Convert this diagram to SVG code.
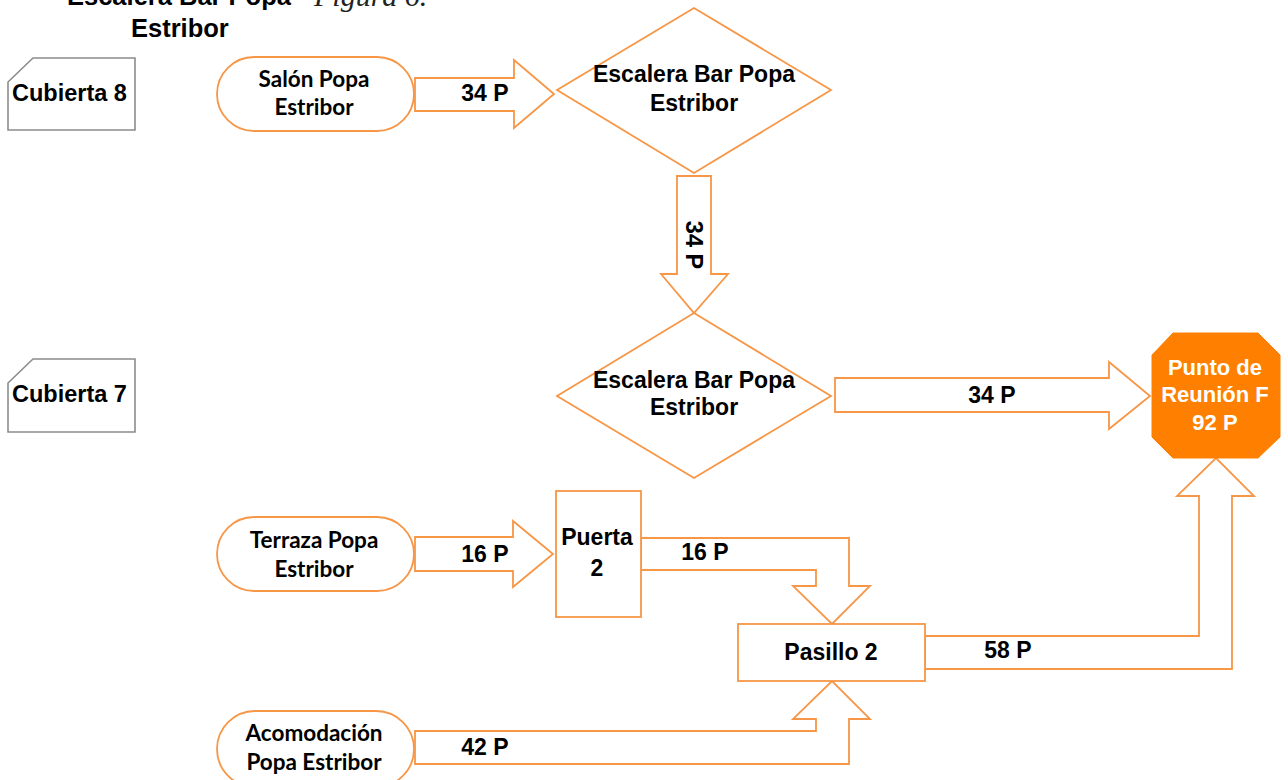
<svg xmlns="http://www.w3.org/2000/svg" width="1288" height="780" viewBox="0 0 1288 780">
  <style>
    .ln { fill: #ffffff; stroke: #f79646; stroke-width: 1.8; stroke-linejoin: miter; }
    .deck { fill: #ffffff; stroke: #8c8c8c; stroke-width: 1.6; }
    .a { font-family: "Liberation Sans", Arial, sans-serif; font-weight: bold; fill: #000000; }
    .c { font-family: Lato, "Open Sans", sans-serif; font-weight: bold; fill: #000000; font-size: 22.5px; }
    .mid { text-anchor: middle; }
    .w { fill: #ffffff; }
  </style>

  <!-- heading -->
  <g id="heading">
    <text class="a" x="67" y="5" font-size="25.5">Escalera Bar Popa</text>
    <text class="a" x="131" y="37" font-size="25.5">Estribor</text>
    <text x="314" y="6" font-family="'Liberation Serif', 'Times New Roman', serif" font-style="italic" font-size="30" fill="#222222">Figura 6.</text>
  </g>

  <!-- deck labels -->
  <g id="cubierta8">
    <path class="deck" d="M33,58 H135 V130 H8 V82 Z"/>
    <text class="a" x="12" y="101" font-size="23.5">Cubierta 8</text>
  </g>
  <g id="cubierta7">
    <path class="deck" d="M33,359 H135 V432 H8 V383 Z"/>
    <text class="a" x="12" y="402" font-size="23.5">Cubierta 7</text>
  </g>

  <!-- connectors (block arrows) -->
  <g id="connectors">
    <path class="ln" d="M415,78 H514 V60 L554,94 L514,128 V111 H415 Z"/>
    <text class="a" x="485" y="101" font-size="23" text-anchor="middle">34 P</text>

    <path class="ln" d="M677,176 H711 V274 H728 L694,313 L661,274 H677 Z"/>
    <text class="a" transform="translate(686,245) rotate(90)" font-size="23.5" text-anchor="middle">34 P</text>

    <path class="ln" d="M835,378 H1109 V362 L1150,396 L1109,429 V412 H835 Z"/>
    <text class="a" x="992" y="403" font-size="23" text-anchor="middle">34 P</text>

    <path class="ln" d="M415,537 H513 V521 L553,554 L513,587 V571 H415 Z"/>
    <text class="a" x="485" y="562" font-size="23" text-anchor="middle">16 P</text>

    <path class="ln" d="M641,538 H849 V586 H870 L832,624 L793,586 H816 V570 H641 Z"/>
    <text class="a" x="705" y="560" font-size="23" text-anchor="middle">16 P</text>

    <path class="ln" d="M415,731 H816 V719 H793 L832,681 L870,719 H849 V764 H415 Z"/>
    <text class="a" x="485" y="755" font-size="23" text-anchor="middle">42 P</text>

    <path class="ln" d="M925,636 H1199 V496 H1177 L1216,458 L1254,496 H1232 V669 H925 Z"/>
    <text class="a" x="1008" y="658" font-size="23" text-anchor="middle">58 P</text>
  </g>

  <!-- nodes -->
  <g id="salon-popa">
    <rect class="ln" x="217" y="57" width="197" height="74" rx="37" ry="37"/>
    <text class="c mid" x="314" y="87">Salón Popa</text>
    <text class="c mid" x="314" y="115">Estribor</text>
  </g>

  <g id="escalera-c8">
    <path class="ln" d="M694,8 L831,90 L694,173 L557,90 Z"/>
    <text class="a mid" x="694" y="82" font-size="23">Escalera Bar Popa</text>
    <text class="a mid" x="694" y="111" font-size="23">Estribor</text>
  </g>

  <g id="escalera-c7">
    <path class="ln" d="M694,313 L831,396 L694,478 L557,396 Z"/>
    <text class="a mid" x="694" y="388" font-size="23">Escalera Bar Popa</text>
    <text class="a mid" x="694" y="415" font-size="23">Estribor</text>
  </g>

  <g id="punto-reunion">
    <path d="M1173,333 H1258 L1280,355 V437 L1258,458 H1173 L1152,437 V355 Z" fill="#ff8000" stroke="#ff8000" stroke-width="1"/>
    <text class="a mid w" x="1215" y="375" font-size="22">Punto de</text>
    <text class="a mid w" x="1215" y="402" font-size="22">Reunión F</text>
    <text class="a mid w" x="1215" y="430" font-size="22">92 P</text>
  </g>

  <g id="terraza-popa">
    <rect class="ln" x="217" y="517" width="197" height="74" rx="37" ry="37"/>
    <text class="c mid" x="314" y="548">Terraza Popa</text>
    <text class="c mid" x="314" y="577">Estribor</text>
  </g>

  <g id="puerta-2">
    <rect class="ln" x="556" y="491" width="85" height="126"/>
    <text class="a mid" x="597" y="545" font-size="23">Puerta</text>
    <text class="a mid" x="597" y="576" font-size="23">2</text>
  </g>

  <g id="pasillo-2">
    <rect class="ln" x="738" y="624" width="187" height="57"/>
    <text class="a mid" x="831" y="660" font-size="23">Pasillo 2</text>
  </g>

  <g id="acomodacion-popa">
    <rect class="ln" x="217" y="711" width="197" height="76" rx="38" ry="38"/>
    <text class="c mid" x="314" y="741">Acomodación</text>
    <text class="c mid" x="314" y="770">Popa Estribor</text>
  </g>
</svg>
